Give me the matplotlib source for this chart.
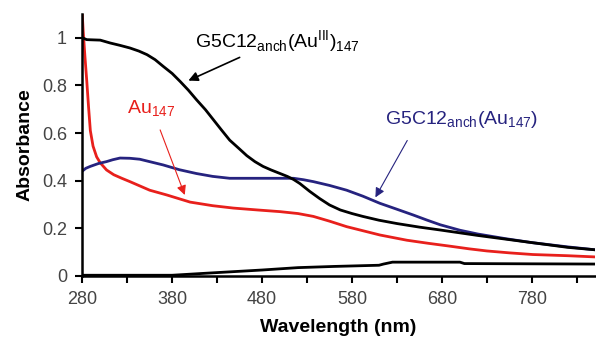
import matplotlib
matplotlib.use("Agg")
from matplotlib import pyplot as plt

plt.rcParams['font.family'] = ['Liberation Sans', 'DejaVu Sans']
plt.rcParams['mathtext.fontset'] = 'custom'
plt.rcParams['mathtext.rm'] = 'Liberation Sans'

# G5C12anch(AuIII)147
wl_au3 = [280, 285, 300, 311, 322, 333, 343, 352, 361, 370, 380, 389, 398, 407, 417, 426,
          435, 444, 454, 463, 472, 481, 490, 500, 508, 515, 522, 533, 544, 555, 567, 580,
          592, 610, 630, 655, 678, 720, 780, 820, 850]
abs_au3 = [1.00, 0.992, 0.99, 0.978, 0.968, 0.957, 0.944, 0.929, 0.908, 0.88, 0.85, 0.816,
           0.78, 0.74, 0.698, 0.655, 0.612, 0.57, 0.536, 0.505, 0.48, 0.46, 0.445, 0.43,
           0.418, 0.405, 0.388, 0.355, 0.325, 0.298, 0.277, 0.262, 0.25, 0.234, 0.22,
           0.205, 0.193, 0.17, 0.14, 0.12, 0.11]

# G5C12anch(Au147)
wl_g5 = [280, 284, 289, 298, 307, 314, 322, 333, 344, 357, 370, 388, 407, 425, 444, 462,
         481, 498, 515, 526, 537, 555, 574, 592, 611, 630, 648, 663, 678, 700, 720, 750,
         780, 820, 850]
abs_g5 = [0.44, 0.452, 0.46, 0.472, 0.48, 0.488, 0.495, 0.494, 0.49, 0.478, 0.466, 0.446,
          0.43, 0.418, 0.41, 0.41, 0.41, 0.41, 0.41, 0.404, 0.396, 0.38, 0.36, 0.335,
          0.305, 0.28, 0.256, 0.235, 0.215, 0.192, 0.176, 0.157, 0.14, 0.122, 0.11]

# Au147
wl_au = [280, 281, 283, 285, 287, 289, 292, 296, 300, 307, 315, 324, 333, 344, 355, 374,
         400, 425, 448, 475, 500, 520, 537, 555, 574, 592, 611, 641, 665, 689, 710, 730,
         755, 781, 820, 850]
abs_au = [1.1, 1.03, 0.92, 0.82, 0.71, 0.61, 0.545, 0.50, 0.475, 0.445, 0.425, 0.41,
          0.396, 0.378, 0.36, 0.34, 0.31, 0.295, 0.285, 0.277, 0.27, 0.262, 0.25, 0.23,
          0.207, 0.19, 0.172, 0.15, 0.137, 0.125, 0.114, 0.105, 0.097, 0.09, 0.085, 0.08]

# baseline (G5C12anch)
wl_base = [280, 380, 420, 480, 520, 560, 610, 615, 625, 700, 705, 850]
abs_base = [0.003, 0.003, 0.012, 0.025, 0.035, 0.04, 0.045, 0.05, 0.058, 0.058, 0.052, 0.05]

red = '#e8201c'
navy = '#26237f'

fig = plt.figure(figsize=(5.96, 3.48), dpi=100)
ax = fig.add_axes([0.138, 0.207, 0.86, 0.753])

ax.plot(wl_base, abs_base, color='black', lw=2)
ax.plot(wl_au, abs_au, color=red, lw=2)
ax.plot(wl_g5, abs_g5, color=navy, lw=2)
ax.plot(wl_au3, abs_au3, color='black', lw=2)

ax.set_xlim(280, 850)
ax.set_ylim(0, 1.1)
ax.set_xticks(range(280, 851, 50), minor=True)
ax.set_xticks([280, 380, 480, 580, 680, 780])
ax.set_yticks([0, 0.2, 0.4, 0.6, 0.8, 1])
ax.set_yticklabels(['0', '0.2', '0.4', '0.6', '0.8', '1'])
ax.tick_params(axis='both', labelsize=13, labelcolor='#444444', direction='out',
               length=5, width=1.5, pad=6)
ax.tick_params(axis='x', which='minor', length=5, width=1.5)
for s in ['top', 'right']:
    ax.spines[s].set_visible(False)
for s in ['left', 'bottom']:
    ax.spines[s].set_linewidth(1.8)

ax.set_xlabel('Wavelength (nm)', fontsize=14, fontweight='bold', labelpad=8)
ax.set_ylabel('Absorbance', fontsize=14, fontweight='bold', labelpad=6)

ax.annotate(r'G5C12$_{\mathregular{anch}}$(Au$^{\mathregular{III}}$)$_{\mathregular{147}}$',
            xy=(398, 0.82), xytext=(405, 0.985), fontsize=14, color='black',
            ha='left', va='center',
            arrowprops=dict(arrowstyle='-|>', color='black', lw=1.2,
                            shrinkA=0, shrinkB=0, relpos=(0.31, 0.0)))
ax.annotate(r'Au$_{\mathregular{147}}$',
            xy=(394, 0.34), xytext=(330, 0.70), fontsize=14, color=red,
            ha='left', va='center',
            arrowprops=dict(arrowstyle='-|>', color=red, lw=0.8,
                            shrinkA=6, shrinkB=0, relpos=(0.6, 0.0)))
ax.annotate(r'G5C12$_{\mathregular{anch}}$(Au$_{\mathregular{147}}$)',
            xy=(606, 0.33), xytext=(617, 0.655), fontsize=14, color=navy,
            ha='left', va='center',
            arrowprops=dict(arrowstyle='-|>', color=navy, lw=0.8,
                            shrinkA=6, shrinkB=0, relpos=(0.18, 0.0)))

fig.savefig('out.png', dpi=100)
